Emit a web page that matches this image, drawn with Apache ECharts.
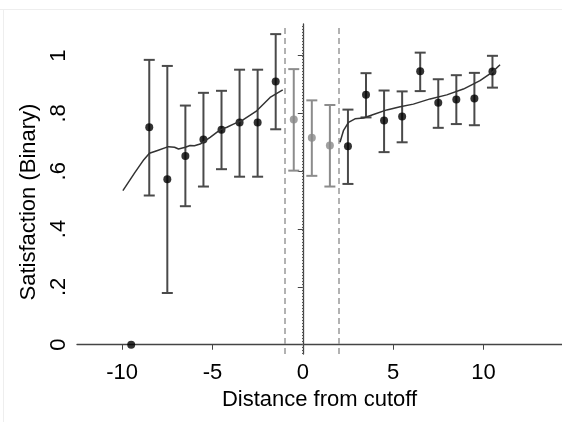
<!doctype html>
<html lang="en">
<head>
    <meta charset="UTF-8">
    <title>Satisfaction by distance from cutoff</title>
    <style>
        *{
            padding:0;
            margin:0;
        }
        body{
            background:#fff;
        }
        #main{
            width:562px;
            height:422px;
        }
    </style>
</head>
<body>
<div id="main"></div>
<script src="https://cdn.jsdelivr.net/npm/echarts@6/dist/echarts.min.js"></script>
<script>
    // bin means, left of cutoff
    var leftX  = [-9.5, -8.5, -7.5, -6.5, -5.5, -4.5, -3.5, -2.5, -1.5];
    var leftY  = [0, 0.752, 0.572, 0.653, 0.710, 0.743, 0.768, 0.768, 0.910];
    var leftLo = [null, 0.516, 0.179, 0.479, 0.547, 0.607, 0.581, 0.581, 0.745];
    var leftHi = [null, 0.985, 0.964, 0.827, 0.871, 0.878, 0.951, 0.951, 1.074];

    // donut bins (grey)
    var midX  = [-0.5, 0.5, 1.5];
    var midY  = [0.779, 0.716, 0.689];
    var midLo = [0.602, 0.584, 0.547];
    var midHi = [0.953, 0.845, 0.829];

    // right of cutoff
    var rightX  = [2.5, 3.5, 4.5, 5.5, 6.5, 7.5, 8.5, 9.5, 10.5];
    var rightY  = [0.686, 0.864, 0.775, 0.789, 0.946, 0.837, 0.848, 0.851, 0.945];
    var rightLo = [0.556, 0.786, 0.666, 0.700, 0.877, 0.750, 0.763, 0.759, 0.889];
    var rightHi = [0.813, 0.939, 0.879, 0.876, 1.010, 0.918, 0.932, 0.940, 0.999];

    // fitted curves
    var fitLeftX  = [-9.96, -9.3, -8.8, -8.49, -8.08, -7.44, -7.1, -6.88, -6.5, -6.24, -6.0, -5.68, -5.13, -4.58, -4.2, -3.84, -3.29, -2.55, -1.81, -1.11];
    var fitLeftY  = [0.533, 0.595, 0.640, 0.662, 0.671, 0.685, 0.683, 0.677, 0.683, 0.689, 0.688, 0.694, 0.717, 0.743, 0.752, 0.763, 0.778, 0.809, 0.855, 0.881];
    var fitRightX = [2.06, 2.25, 2.53, 2.89, 3.36, 3.91, 4.65, 5.39, 6.12, 7.05, 7.97, 8.89, 9.81, 10.46, 10.92];
    var fitRightY = [0.700, 0.740, 0.769, 0.781, 0.784, 0.796, 0.812, 0.823, 0.832, 0.850, 0.864, 0.884, 0.913, 0.941, 0.968];

    var xTicks = [-10, -5, 0, 5, 10];
    var yTicks = [0, 0.2, 0.4, 0.6, 0.8, 1];
    var yTickLabels = ['0', '.2', '.4', '.6', '.8', '1'];
    var cutLines = [-1, 2];

    function zip(a, b){
        return a.map(function(v, i){ return [v, b[i]]; });
    }
    function bars(x, lo, hi){
        var out = [];
        x.forEach(function(v, i){
            if (lo[i] != null) out.push([v, lo[i], hi[i]]);
        });
        return out;
    }
    function errorBars(data, color){
        return {
            type: 'custom',
            data: data,
            encode: {x: 0, y: [1, 2]},
            z: 3,
            renderItem: function(params, api){
                var top = api.coord([api.value(0), api.value(2)]);
                var bot = api.coord([api.value(0), api.value(1)]);
                var w = 5.5;
                var st = {stroke: color, lineWidth: 2};
                return {
                    type: 'group',
                    children: [
                        {type: 'line', shape: {x1: top[0], y1: top[1], x2: bot[0], y2: bot[1]}, style: st},
                        {type: 'line', shape: {x1: top[0] - w, y1: top[1], x2: top[0] + w, y2: top[1]}, style: st},
                        {type: 'line', shape: {x1: bot[0] - w, y1: bot[1], x2: bot[0] + w, y2: bot[1]}, style: st}
                    ]
                };
            }
        };
    }
    function points(data, color){
        return {
            type: 'scatter', data: data, symbolSize: 8, z: 4,
            itemStyle: {color: color}
        };
    }
    function fit(data){
        return {
            type: 'line', data: data, showSymbol: false, z: 5,
            lineStyle: {color: '#333', width: 1.5}
        };
    }

    var font = 'Liberation Sans, Arial, Helvetica, sans-serif';
    var myChart = echarts.init(document.getElementById('main'));
    var option = {
        animation: false,
        grid: {left: 77, right: 0, top: 24, bottom: 68},
        xAxis: {
            type: 'value', min: -12.5, max: 14.35,
            name: 'Distance from cutoff', nameLocation: 'middle', nameGap: 33,
            nameTextStyle: {fontFamily: font, fontSize: 22, color: '#000'},
            splitLine: {show: false},
            axisLine: {lineStyle: {color: '#444', width: 1.3}},
            axisTick: {length: 5, customValues: xTicks, lineStyle: {color: '#444'}},
            axisLabel: {customValues: xTicks, fontFamily: font, fontSize: 22, color: '#000', margin: 8}
        },
        yAxis: {
            type: 'value', min: -0.032, max: 1.109,
            name: 'Satisfaction (Binary)', nameLocation: 'middle', nameGap: 29,
            nameTextStyle: {fontFamily: font, fontSize: 22, color: '#000', padding: [0, 0, 0, -26]},
            splitLine: {show: false},
            axisLine: {lineStyle: {color: '#444', width: 1.3}},
            axisTick: {length: 5, customValues: yTicks, lineStyle: {color: '#444'}},
            axisLabel: {
                customValues: yTicks, rotate: 90, fontFamily: font, fontSize: 22, color: '#000', margin: 7,
                formatter: function(v){
                    var i = yTicks.findIndex(function(t){ return Math.abs(t - v) < 1e-6; });
                    return i >= 0 ? yTickLabels[i] : '';
                }
            }
        },
        series: [
            {
                type: 'line', data: [], z: 1,
                markLine: {
                    silent: true, symbol: 'none', label: {show: false},
                    data: cutLines.map(function(v){
                        return {xAxis: v, lineStyle: {color: '#999', type: [6, 4], width: 1.5}};
                    }).concat([{xAxis: 0, lineStyle: {color: '#555', type: [1, 2], width: 2}}])
                }
            },
            errorBars(bars(leftX, leftLo, leftHi), '#4a4a4a'),
            errorBars(bars(midX, midLo, midHi), '#8c8c8c'),
            errorBars(bars(rightX, rightLo, rightHi), '#4a4a4a'),
            points(zip(leftX, leftY), '#000'),
            points(zip(midX, midY), '#888'),
            points(zip(rightX, rightY), '#000'),
            fit(zip(fitLeftX, fitLeftY)),
            fit(zip(fitRightX, fitRightY))
        ],
        graphic: [
            {type: 'line', shape: {x1: 0, y1: 9.5, x2: 562, y2: 9.5}, style: {stroke: '#eee', lineWidth: 1}},
            {type: 'line', shape: {x1: 3.5, y1: 9.5, x2: 3.5, y2: 422}, style: {stroke: '#eee', lineWidth: 1}}
        ]
    };
    myChart.setOption(option);
</script>
</body>
</html>
